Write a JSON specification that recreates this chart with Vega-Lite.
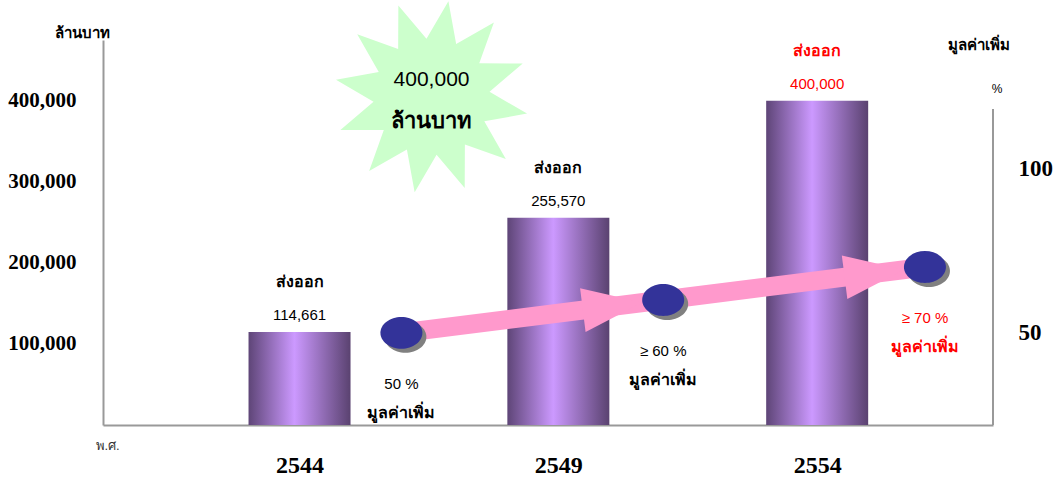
{
  "$schema": "https://vega.github.io/schema/vega-lite/v6.json",
  "width": 890,
  "height": 385,
  "autosize": {"type": "none"},
  "padding": {"left": 103, "top": 40, "right": 64, "bottom": 55},
  "background": "white",
  "config": {"view": {"stroke": null}, "axis": {"grid": false, "ticks": false}},
  "datasets": {
    "exports": [
      {"year": 2544, "value": 114661},
      {"year": 2549, "value": 255570},
      {"year": 2554, "value": 400000}
    ],
    "valueAdded": [
      {"year": 2544, "pct": 50, "label": "50 %"},
      {"year": 2549, "pct": 60, "label": "≥ 60 %"},
      {"year": 2554, "pct": 70, "label": "≥ 70 %"}
    ],
    "arrows": [
      {"from": 2544, "to": 2549, "p0": 50, "p1": 60},
      {"from": 2549, "to": 2554, "p0": 60, "p1": 70}
    ]
  },
  "layer": [
    {
      "layer": [
        {
          "data": {"name": "exports"},
          "mark": {"type": "bar", "width": 102,
            "color": {"gradient": "linear", "x1": 0, "y1": 0, "x2": 1, "y2": 0,
              "stops": [
                {"offset": 0, "color": "#5e4577"},
                {"offset": 0.45, "color": "#cc99ff"},
                {"offset": 1, "color": "#5a4270"}
              ]}},
          "encoding": {
            "x": {"field": "year", "type": "quantitative", "title": "พ.ศ.",
              "scale": {"domain": [2540.3, 2557.3], "nice": false, "zero": false},
              "axis": {"orient": "bottom", "values": [2544, 2549, 2554], "labelExpr": "format(datum.value, 'd')",
                "labelFont": "Liberation Serif", "labelFontWeight": "bold", "labelFontSize": 24,
                "labelColor": "black", "labelPadding": 28, "domainColor": "#999999", "domainWidth": 2,
                "titleFont": "Liberation Sans", "titleFontSize": 13, "titleFontWeight": "normal",
                "titleColor": "#333333", "titleAnchor": "start", "titleAlign": "left", "titleX": -8, "titleY": 14,
                "titleBaseline": "top"}},
            "y": {"field": "value", "type": "quantitative", "title": "ล้านบาท",
              "scale": {"domain": [0, 475000], "nice": false},
              "axis": {"orient": "left", "values": [100000, 200000, 300000, 400000], "labelExpr": "format(datum.value, ',')",
                "labelFont": "Liberation Serif", "labelFontWeight": "bold", "labelFontSize": 21,
                "labelColor": "black", "labelPadding": 27, "domainColor": "#999999", "domainWidth": 2,
                "titleFont": "Liberation Sans", "titleFontSize": 15, "titleFontWeight": "bold",
                "titleColor": "black", "titleAngle": 0, "titleAlign": "center", "titleBaseline": "middle",
                "titleX": -21, "titleY": -8}}
          }
        },
        {
          "data": {"values": [{}]},
          "mark": {"type": "point", "filled": true, "opacity": 1, "color": "#ccffcc", "size": 37636,
            "shape": "M0.174,-0.985L0.254,-0.544L0.643,-0.766L0.492,-0.344L0.94,-0.342L0.598,-0.052L0.985,0.174L0.544,0.254L0.766,0.643L0.344,0.492L0.342,0.94L0.052,0.598L-0.174,0.985L-0.254,0.544L-0.643,0.766L-0.492,0.344L-0.94,0.342L-0.598,0.052L-0.985,-0.174L-0.544,-0.254L-0.766,-0.643L-0.344,-0.492L-0.342,-0.94L-0.052,-0.598Z"},
          "encoding": {
            "x": {"datum": 2546.55, "type": "quantitative", "title": "พ.ศ."},
            "y": {"datum": 405000, "type": "quantitative", "title": "ล้านบาท"}
          }
        },
        {
          "data": {"values": [{}]},
          "mark": {"type": "text", "text": "400,000", "dy": -17, "fontSize": 21, "font": "Liberation Sans", "color": "black"},
          "encoding": {
            "x": {"datum": 2546.55, "type": "quantitative", "title": "พ.ศ."},
            "y": {"datum": 405000, "type": "quantitative", "title": "ล้านบาท"}
          }
        },
        {
          "data": {"values": [{}]},
          "mark": {"type": "text", "text": "ล้านบาท", "dy": 24, "fontSize": 22, "fontWeight": "bold", "font": "Liberation Sans", "color": "black"},
          "encoding": {
            "x": {"datum": 2546.55, "type": "quantitative", "title": "พ.ศ."},
            "y": {"datum": 405000, "type": "quantitative", "title": "ล้านบาท"}
          }
        },
        {
          "data": {"name": "exports"},
          "mark": {"type": "text", "dy": -17, "fontSize": 15, "font": "Liberation Sans"},
          "encoding": {
            "x": {"field": "year", "type": "quantitative", "title": "พ.ศ."},
            "y": {"field": "value", "type": "quantitative", "title": "ล้านบาท"},
            "text": {"field": "value", "type": "quantitative", "format": ","},
            "color": {"condition": {"test": "datum.year === 2554", "value": "#ff0000"}, "value": "black"}
          }
        },
        {
          "data": {"name": "exports"},
          "mark": {"type": "text", "text": "ส่งออก", "dy": -50, "fontSize": 16, "fontWeight": "bold", "font": "Liberation Sans"},
          "encoding": {
            "x": {"field": "year", "type": "quantitative", "title": "พ.ศ."},
            "y": {"field": "value", "type": "quantitative", "title": "ล้านบาท"},
            "color": {"condition": {"test": "datum.year === 2554", "value": "#ff0000"}, "value": "black"}
          }
        }
      ]
    },
    {
      "layer": [
        {
          "data": {"name": "valueAdded"},
          "mark": {"type": "point", "filled": true, "opacity": 0, "size": 10},
          "encoding": {
            "x": {"field": "year", "type": "quantitative",
              "scale": {"domain": [2538.3, 2555.3], "nice": false, "zero": false}, "axis": null},
            "y": {"field": "pct", "type": "quantitative", "title": "มูลค่าเพิ่ม",
              "scale": {"domain": [22, 139], "nice": false, "zero": false},
              "axis": {"orient": "right", "values": [50, 100], "domain": false, "labelExpr": "format(datum.value, 'd')",
                "labelFont": "Liberation Serif", "labelFontWeight": "bold", "labelFontSize": 23,
                "labelColor": "black", "labelPadding": 25,
                "titleFont": "Liberation Sans", "titleFontSize": 15, "titleFontWeight": "bold",
                "titleColor": "black", "titleAngle": 0, "titleAlign": "center", "titleBaseline": "middle",
                "titleX": -15, "titleY": 4}}
          }
        },
        {
          "data": {"values": [{}]},
          "mark": {"type": "rule", "color": "#999999", "strokeWidth": 2},
          "encoding": {
            "x": {"datum": 2555.3, "type": "quantitative", "axis": null},
            "y": {"datum": 22, "type": "quantitative", "title": "มูลค่าเพิ่ม"},
            "y2": {"datum": 118}
          }
        },
        {
          "data": {"values": [{}]},
          "mark": {"type": "text", "text": "%", "dx": 4, "fontSize": 12, "font": "Liberation Sans", "color": "black"},
          "encoding": {
            "x": {"datum": 2555.3, "type": "quantitative", "axis": null},
            "y": {"datum": 124, "type": "quantitative", "title": "มูลค่าเพิ่ม"}
          }
        },
        {
          "data": {"name": "arrows"},
          "mark": {"type": "rule", "color": "#ff99cc", "strokeWidth": 19},
          "encoding": {
            "x": {"field": "from", "type": "quantitative", "axis": null},
            "x2": {"field": "to"},
            "y": {"field": "p0", "type": "quantitative", "title": "มูลค่าเพิ่ม"},
            "y2": {"field": "p1"}
          }
        },
        {
          "data": {"name": "arrows"},
          "mark": {"type": "point", "filled": true, "opacity": 1, "color": "#ff99cc", "size": 19600, "angle": 352.8,
            "shape": "M-0.3,0L-1.157,-0.314L-1.157,0.314Z"},
          "encoding": {
            "x": {"field": "to", "type": "quantitative", "axis": null},
            "y": {"field": "p1", "type": "quantitative", "title": "มูลค่าเพิ่ม"}
          }
        },
        {
          "data": {"name": "valueAdded"},
          "mark": {"type": "point", "filled": true, "opacity": 1, "color": "#808080", "size": 1764,
            "shape": "M-0.81,0.19A1,0.76,0,1,1,1.19,0.19A1,0.76,0,1,1,-0.81,0.19Z"},
          "encoding": {
            "x": {"field": "year", "type": "quantitative", "axis": null},
            "y": {"field": "pct", "type": "quantitative", "title": "มูลค่าเพิ่ม"}
          }
        },
        {
          "data": {"name": "valueAdded"},
          "mark": {"type": "point", "filled": true, "opacity": 1, "color": "#333399", "size": 1764,
            "shape": "M-1,0A1,0.76,0,1,1,1,0A1,0.76,0,1,1,-1,0Z"},
          "encoding": {
            "x": {"field": "year", "type": "quantitative", "axis": null},
            "y": {"field": "pct", "type": "quantitative", "title": "มูลค่าเพิ่ม"}
          }
        },
        {
          "data": {"name": "valueAdded"},
          "mark": {"type": "text", "dy": 51, "fontSize": 15, "font": "Liberation Sans"},
          "encoding": {
            "x": {"field": "year", "type": "quantitative", "axis": null},
            "y": {"field": "pct", "type": "quantitative", "title": "มูลค่าเพิ่ม"},
            "text": {"field": "label"},
            "color": {"condition": {"test": "datum.year === 2554", "value": "#ff0000"}, "value": "black"}
          }
        },
        {
          "data": {"name": "valueAdded"},
          "mark": {"type": "text", "text": "มูลค่าเพิ่ม", "dy": 80, "fontSize": 16, "fontWeight": "bold", "font": "Liberation Sans"},
          "encoding": {
            "x": {"field": "year", "type": "quantitative", "axis": null},
            "y": {"field": "pct", "type": "quantitative", "title": "มูลค่าเพิ่ม"},
            "color": {"condition": {"test": "datum.year === 2554", "value": "#ff0000"}, "value": "black"}
          }
        }
      ]
    }
  ],
  "resolve": {"scale": {"x": "independent", "y": "independent"}}
}
